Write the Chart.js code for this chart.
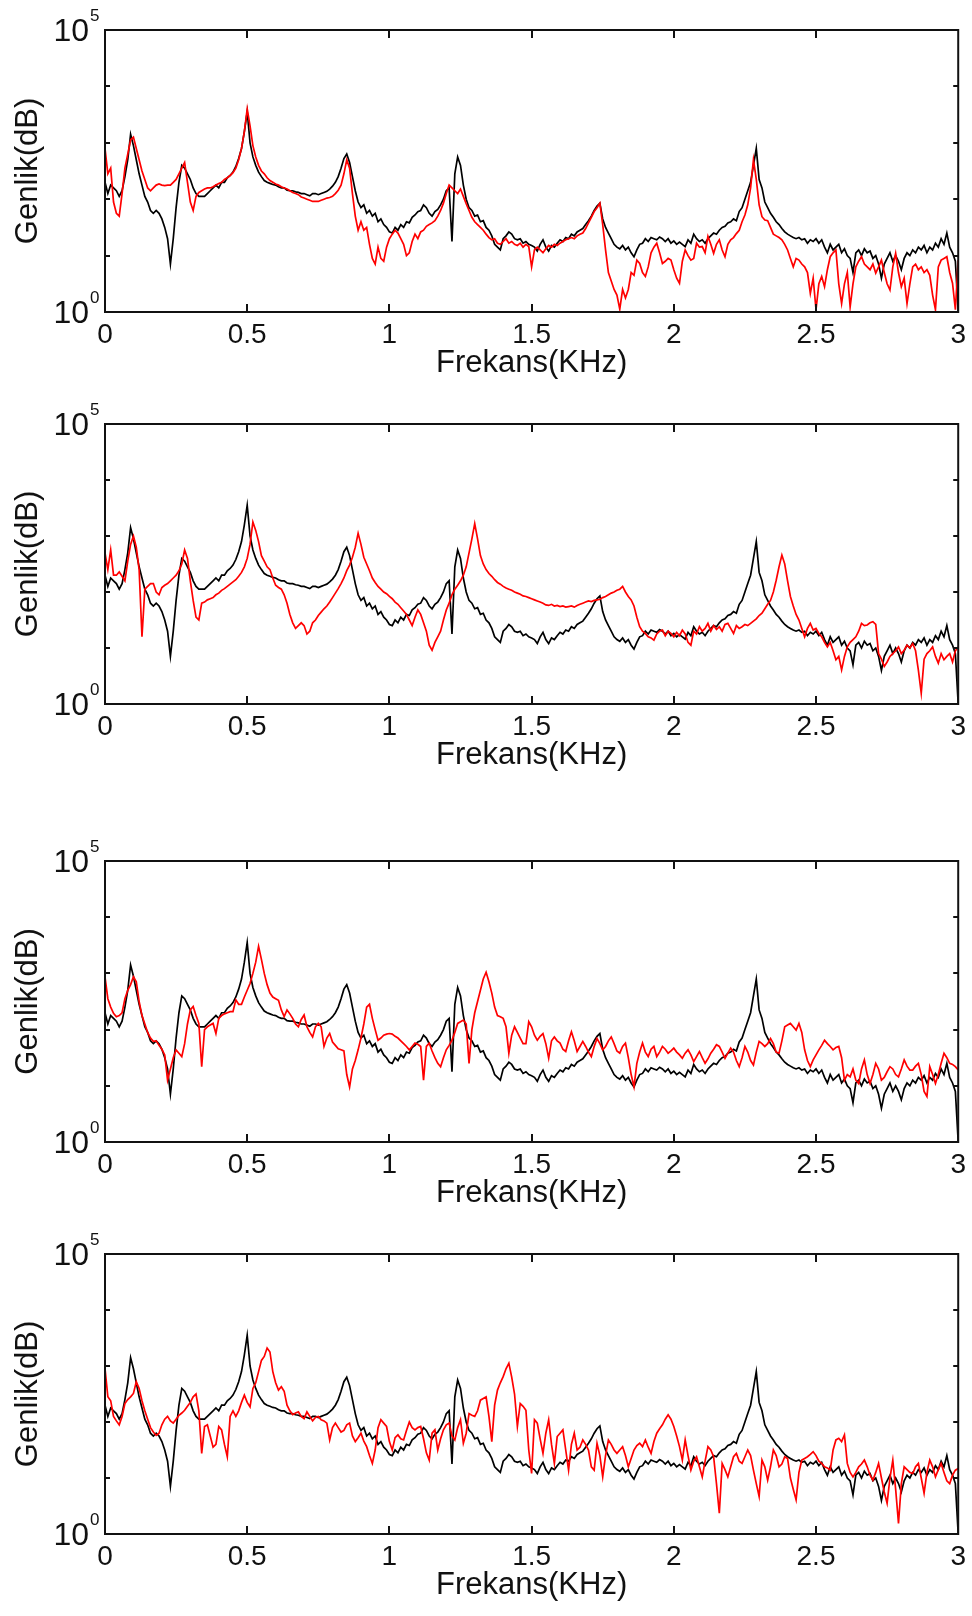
<!DOCTYPE html>
<html>
<head>
<meta charset="utf-8">
<script src="https://cdn.jsdelivr.net/npm/chart.js@4.4.0/dist/chart.umd.min.js"></script>
<style>
  html, body { margin: 0; padding: 0; background: #fff; overflow: hidden; }
  body { width: 972px; height: 1616px; position: relative; }
  canvas { position: absolute; left: 0; }
</style>
</head>
<body>
<canvas id="panel1" width="972" height="390" style="top:0px"></canvas>
<canvas id="panel2" width="972" height="390" style="top:394px"></canvas>
<canvas id="panel3" width="972" height="390" style="top:831px"></canvas>
<canvas id="panel4" width="972" height="390" style="top:1224px"></canvas>
<script>
// spectra, stored as log10(amplitude), one bin every 0.01 kHz (0 .. 3 kHz)
const freqStepKHz = 0.01;

// black reference curve (same in all four panels)
const blackLog = [
  2.3,2.1,2.25,2.2,2.15,2.05,2.15,2.4,2.7,3.15,
  2.95,2.7,2.45,2.25,2.05,1.95,1.8,1.75,1.8,1.75,
  1.65,1.5,1.3,0.85,1.3,1.85,2.3,2.6,2.55,2.45,
  2.35,2.2,2.1,2.05,2.05,2.05,2.1,2.15,2.2,2.25,
  2.2,2.3,2.3,2.38,2.42,2.48,2.58,2.72,2.9,3.2,
  3.55,3.0,2.75,2.6,2.48,2.4,2.33,2.3,2.28,2.26,
  2.25,2.22,2.2,2.2,2.16,2.15,2.15,2.13,2.12,2.1,
  2.1,2.08,2.06,2.1,2.1,2.08,2.1,2.12,2.14,2.18,
  2.23,2.3,2.4,2.55,2.72,2.8,2.65,2.4,2.15,1.95,
  1.85,1.9,1.75,1.8,1.7,1.75,1.6,1.65,1.55,1.5,
  1.42,1.4,1.5,1.45,1.55,1.5,1.6,1.58,1.68,1.72,
  1.78,1.8,1.9,1.85,1.75,1.7,1.78,1.82,1.9,2.0,
  2.15,2.2,1.25,2.45,2.75,2.6,2.25,2.0,1.85,1.8,
  1.7,1.72,1.6,1.62,1.5,1.45,1.35,1.2,1.15,1.1,
  1.3,1.35,1.42,1.38,1.3,1.28,1.3,1.22,1.25,1.2,
  1.18,1.15,1.08,1.2,1.28,1.15,1.08,1.18,1.15,1.22,
  1.28,1.25,1.32,1.3,1.38,1.35,1.42,1.45,1.48,1.55,
  1.62,1.7,1.8,1.88,1.93,1.65,1.5,1.4,1.3,1.2,
  1.15,1.12,1.18,1.1,1.15,1.05,0.98,1.1,1.2,1.22,
  1.3,1.25,1.32,1.3,1.28,1.33,1.3,1.25,1.3,1.22,
  1.26,1.2,1.24,1.2,1.16,1.28,1.22,1.38,1.3,1.25,
  1.28,1.22,1.3,1.35,1.4,1.38,1.45,1.5,1.52,1.58,
  1.6,1.65,1.62,1.78,1.85,2.0,2.15,2.3,2.6,2.9,
  2.35,2.2,1.95,1.85,1.75,1.68,1.6,1.55,1.48,1.42,
  1.38,1.35,1.32,1.3,1.32,1.28,1.3,1.22,1.28,1.25,
  1.3,1.22,1.28,1.15,1.05,1.2,1.1,1.15,1.2,1.05,
  1.12,1.0,0.95,0.7,1.05,1.1,1.0,1.12,1.05,1.08,
  0.95,1.0,0.85,0.6,0.85,0.95,1.05,0.9,1.0,0.9,
  0.75,0.95,1.05,1.0,1.1,1.05,1.15,1.1,1.18,1.05,
  1.15,1.1,1.22,1.15,1.3,1.2,1.4,1.15,1.05,0.9,
  0.0
];

// red curves, one per panel
const red1Log = [
  2.9,2.45,2.55,1.95,1.75,1.7,2.1,2.55,2.8,3.05,
  3.1,2.9,2.7,2.5,2.35,2.2,2.15,2.2,2.25,2.27,
  2.25,2.24,2.25,2.25,2.3,2.35,2.45,2.55,2.65,2.3,
  1.95,1.8,2.05,2.12,2.15,2.18,2.2,2.2,2.22,2.25,
  2.28,2.3,2.35,2.38,2.42,2.47,2.55,2.7,2.9,3.2,
  3.6,3.3,2.95,2.75,2.6,2.5,2.45,2.38,2.33,2.3,
  2.27,2.25,2.22,2.2,2.18,2.15,2.12,2.1,2.08,2.04,
  2.02,2.0,1.98,1.96,1.96,1.96,1.98,2.0,2.02,2.03,
  2.05,2.1,2.16,2.25,2.45,2.7,2.55,2.1,1.7,1.45,
  1.6,1.45,1.5,1.2,0.95,0.85,1.15,0.95,0.9,1.15,
  1.3,1.38,1.45,1.4,1.3,1.2,1.0,1.05,1.25,1.38,
  1.3,1.42,1.45,1.52,1.55,1.58,1.62,1.7,1.8,1.93,
  2.1,2.25,2.2,2.15,2.1,2.18,2.05,1.92,1.8,1.68,
  1.6,1.55,1.5,1.45,1.38,1.32,1.28,1.3,1.22,1.2,
  1.25,1.3,1.22,1.25,1.2,1.18,1.22,1.15,1.2,1.16,
  0.8,1.1,1.15,1.1,1.05,1.12,1.18,1.15,1.2,1.18,
  1.22,1.25,1.28,1.3,1.32,1.3,1.35,1.38,1.4,1.48,
  1.58,1.68,1.78,1.85,1.93,1.55,1.1,0.7,0.55,0.4,
  0.3,0.05,0.4,0.25,0.4,0.7,0.65,0.92,0.86,0.7,
  0.63,0.8,1.05,1.15,1.22,1.05,0.86,0.9,0.95,0.92,
  0.75,0.6,0.51,0.9,1.1,1.0,0.92,0.95,1.22,1.15,
  1.16,1.05,1.34,1.2,1.04,1.2,1.28,1.1,0.98,1.2,
  1.28,1.32,1.39,1.45,1.6,1.72,1.9,2.2,2.7,2.35,
  1.9,1.69,1.63,1.62,1.5,1.38,1.35,1.32,1.28,1.2,
  1.1,0.95,0.8,0.95,0.92,0.85,0.8,0.7,0.33,0.6,
  0.04,0.5,0.63,0.45,0.75,0.98,1.05,1.1,0.5,0.15,
  0.5,0.7,0.09,0.5,0.8,0.9,0.98,0.85,0.8,0.75,
  0.85,0.69,0.8,0.92,0.7,0.5,0.39,0.8,1.04,0.7,
  0.45,0.6,0.15,0.5,0.8,0.85,0.75,0.8,0.7,0.75,
  0.65,0.3,0.04,0.8,0.92,0.95,0.98,0.7,0.51,0.04,
  0.92
];

const red2Log = [
  2.7,2.4,2.75,2.3,2.3,2.36,2.28,2.2,2.55,2.85,
  3.0,2.8,2.4,1.2,2.05,2.1,2.15,2.15,2.0,1.95,
  2.08,2.12,2.15,2.2,2.25,2.3,2.38,2.5,2.75,2.6,
  2.2,1.85,1.55,1.5,1.8,1.82,1.86,1.88,1.9,1.95,
  1.98,2.03,2.06,2.1,2.14,2.18,2.22,2.28,2.35,2.45,
  2.6,2.85,3.25,3.1,2.9,2.65,2.55,2.45,2.4,2.25,
  2.12,2.08,2.05,1.95,1.8,1.6,1.45,1.35,1.4,1.45,
  1.4,1.25,1.3,1.45,1.5,1.58,1.64,1.7,1.75,1.82,
  1.9,1.98,2.06,2.15,2.25,2.38,2.48,2.62,2.8,3.05,
  2.85,2.62,2.5,2.38,2.25,2.17,2.1,2.05,2.0,1.97,
  1.92,1.88,1.82,1.78,1.72,1.66,1.6,1.5,1.4,1.55,
  1.68,1.6,1.45,1.3,1.05,0.96,1.1,1.2,1.3,1.5,
  1.68,1.8,1.95,2.05,2.12,2.2,2.3,2.45,2.7,2.95,
  3.22,2.95,2.65,2.5,2.4,2.33,2.28,2.22,2.17,2.14,
  2.1,2.07,2.05,2.03,2.0,1.98,1.96,1.93,1.92,1.9,
  1.88,1.86,1.84,1.82,1.8,1.77,1.76,1.78,1.75,1.76,
  1.74,1.75,1.73,1.74,1.75,1.73,1.76,1.78,1.8,1.82,
  1.84,1.83,1.85,1.86,1.87,1.9,1.92,1.95,1.98,2.0,
  2.03,2.05,2.1,2.0,1.92,1.86,1.75,1.55,1.38,1.3,
  1.26,1.2,1.18,1.14,1.25,1.3,1.32,1.22,1.3,1.26,
  1.2,1.28,1.22,1.32,1.25,1.1,1.05,1.3,1.25,1.38,
  1.3,1.35,1.44,1.3,1.4,1.33,1.38,1.3,1.42,1.44,
  1.35,1.26,1.4,1.35,1.38,1.42,1.4,1.44,1.48,1.52,
  1.58,1.62,1.7,1.78,1.85,2.0,2.21,2.45,2.66,2.5,
  2.2,1.92,1.75,1.6,1.5,1.35,1.2,1.35,1.44,1.32,
  1.35,1.26,1.2,1.1,1.02,1.1,0.95,0.79,0.85,0.61,
  0.85,1.02,1.1,1.15,1.2,1.3,1.44,1.4,1.41,1.45,
  1.47,1.42,0.9,0.8,0.67,0.75,0.85,0.9,0.95,1.02,
  0.9,0.96,1.05,1.0,1.08,0.95,0.6,0.19,0.8,0.9,
  0.95,1.02,0.85,0.73,0.9,0.79,0.85,0.9,0.75,0.95,
  1.02
];

const red3Log = [
  2.94,2.55,2.4,2.29,2.23,2.25,2.3,2.55,2.7,2.8,
  2.94,2.85,2.5,2.25,2.1,1.95,1.85,1.79,1.8,1.72,
  1.65,1.55,1.1,1.3,1.5,1.64,1.58,1.52,1.75,2.1,
  2.35,2.41,2.25,2.11,1.34,2.0,2.05,2.08,2.11,1.93,
  2.2,2.25,2.28,2.3,2.32,2.32,2.53,2.45,2.45,2.58,
  2.7,2.82,3.0,3.2,3.48,3.25,3.0,2.8,2.65,2.58,
  2.55,2.52,2.35,2.23,2.35,2.28,2.2,2.1,2.05,2.18,
  2.26,2.05,1.95,1.87,2.05,2.11,2.05,1.7,1.85,1.93,
  1.78,1.72,1.66,1.64,1.62,1.2,0.98,1.3,1.45,1.64,
  1.85,2.1,2.4,2.45,2.2,2.0,1.81,1.85,1.9,1.92,
  1.93,1.92,1.88,1.85,1.8,1.75,1.7,1.64,1.7,1.76,
  1.74,1.7,1.1,1.7,1.76,1.62,1.5,1.4,1.34,1.5,
  1.64,1.72,1.81,1.95,2.11,2.14,2.17,2.1,1.4,2.0,
  2.3,2.5,2.7,2.9,3.02,2.85,2.65,2.4,2.25,2.23,
  2.2,2.05,1.58,1.9,2.05,1.95,1.85,1.75,1.75,2.14,
  2.05,1.9,1.81,1.88,1.93,1.75,1.49,1.8,1.87,1.8,
  1.76,1.65,1.61,1.8,1.96,1.8,1.61,1.7,1.79,1.7,
  1.6,1.52,1.7,1.84,1.75,1.64,1.7,1.8,1.87,1.75,
  1.62,1.58,1.7,1.76,1.5,1.2,0.98,1.4,1.6,1.76,
  1.6,1.52,1.65,1.7,1.52,1.6,1.7,1.65,1.58,1.62,
  1.67,1.6,1.55,1.49,1.58,1.64,1.55,1.43,1.52,1.61,
  1.5,1.4,1.48,1.58,1.65,1.73,1.7,1.6,1.49,1.58,
  1.67,1.6,1.45,1.34,1.5,1.7,1.6,1.45,1.37,1.6,
  1.79,1.75,1.7,1.75,1.84,1.75,1.6,1.58,1.8,2.05,
  2.08,2.11,2.05,1.99,2.11,1.95,1.64,1.45,1.34,1.46,
  1.55,1.64,1.72,1.81,1.75,1.7,1.64,1.68,1.7,1.5,
  1.1,1.2,1.16,1.3,1.1,1.04,1.3,1.46,1.2,1.04,
  1.2,1.4,1.3,1.1,1.15,1.25,1.34,1.3,1.2,1.16,
  1.3,1.46,1.35,1.28,1.28,1.35,1.4,1.2,0.9,0.81,
  1.34,1.2,1.04,1.2,1.4,1.58,1.5,1.4,1.38,1.34,
  1.28
];

const red4Log = [
  2.96,2.45,2.38,2.1,2.02,1.95,2.1,2.33,2.4,2.45,
  2.51,2.72,2.6,2.38,2.2,2.05,1.9,1.82,1.76,1.8,
  1.95,2.05,2.1,2.02,1.98,2.05,2.12,2.16,2.21,2.28,
  2.35,2.45,2.5,2.2,1.44,1.92,1.95,1.75,1.55,1.6,
  1.92,1.86,1.6,1.38,2.1,2.2,2.1,2.2,2.35,2.48,
  2.35,2.27,2.6,2.7,2.9,3.1,3.17,3.32,3.25,2.9,
  2.7,2.57,2.63,2.55,2.3,2.2,2.13,2.16,2.18,2.1,
  2.06,2.18,2.1,2.02,2.08,2.1,2.04,2.02,1.98,1.68,
  1.9,1.98,1.9,1.82,1.85,1.95,1.98,1.75,1.65,1.72,
  1.8,1.66,1.56,1.4,1.26,1.5,1.9,2.04,1.98,1.92,
  1.65,1.5,1.72,1.77,1.7,1.68,1.85,2.0,1.9,1.86,
  1.9,1.92,1.7,1.45,1.32,1.8,1.86,1.5,1.7,1.86,
  1.95,1.98,1.75,1.68,1.9,2.04,1.62,1.8,2.15,2.12,
  2.1,2.2,2.39,2.42,2.45,2.1,1.65,2.3,2.57,2.7,
  2.81,2.95,3.05,2.8,2.5,1.92,2.33,2.28,2.21,1.5,
  1.08,2.04,1.98,1.7,1.44,1.8,2.04,1.6,1.26,1.74,
  1.8,1.86,1.5,1.14,1.6,1.8,1.5,1.55,1.68,1.6,
  1.5,1.2,1.14,1.62,1.4,1.02,1.4,1.68,1.6,1.5,
  1.44,1.5,1.56,1.4,1.2,1.35,1.5,1.58,1.62,1.56,
  1.68,1.55,1.44,1.65,1.8,1.88,1.95,2.05,2.13,2.05,
  1.92,1.75,1.56,1.32,1.68,1.4,1.14,1.3,1.38,1.2,
  1.02,1.3,1.56,1.5,1.38,0.9,0.37,1.26,1.15,1.02,
  1.2,1.38,1.44,1.3,1.26,1.38,1.5,1.4,1.14,0.9,
  0.67,1.32,1.2,0.96,1.2,1.5,1.4,1.2,1.25,1.38,
  1.35,1.0,0.8,0.61,1.1,1.32,1.35,1.38,1.42,1.47,
  1.4,1.3,1.26,1.2,1.18,1.14,1.5,1.68,1.71,1.65,
  1.77,1.26,1.1,1.02,1.1,1.2,1.25,1.32,1.2,1.05,
  0.96,1.1,1.26,1.0,0.75,0.55,1.0,1.32,0.8,0.19,
  0.9,1.2,1.15,1.1,1.08,1.2,1.26,1.0,0.73,1.1,
  1.32,1.2,1.02,1.15,1.26,1.1,0.95,0.9,1.05,1.14,
  1.17
];

const xTicks = [0, 0.5, 1, 1.5, 2, 2.5, 3];
const yDecades = [1, 10, 100, 1000, 10000, 100000];
const yTickLabels = [{ value: 1, base: '10', exp: '0' }, { value: 100000, base: '10', exp: '5' }];

const fontFamily = '"Liberation Sans", Arial, Helvetica, sans-serif';
const canvasH = 390;

// plot boxes in page pixels
const panels = [
  { id: 'panel1', red: red1Log, canvasTop: 0, top: 30, bottom: 312 },
  { id: 'panel2', red: red2Log, canvasTop: 394, top: 424, bottom: 704 },
  { id: 'panel3', red: red3Log, canvasTop: 831, top: 861, bottom: 1142 },
  { id: 'panel4', red: red4Log, canvasTop: 1224, top: 1254, bottom: 1534 }
];

function toPoints(logs) {
  return logs.map((e, i) => ({ x: i * freqStepKHz, y: Math.pow(10, e) }));
}

// matlab style box with inward ticks and 10^n labels
const frameTicks = {
  id: 'frameTicks',
  afterDatasetsDraw(chart) {
    const ctx = chart.ctx;
    const a = chart.chartArea;
    const xs = chart.scales.x;
    const ys = chart.scales.y;
    ctx.save();
    ctx.strokeStyle = '#111';
    ctx.lineWidth = 2;
    ctx.strokeRect(a.left, a.top, a.right - a.left, a.bottom - a.top);
    ctx.beginPath();
    xTicks.slice(1, -1).forEach(v => {
      const px = Math.round(xs.getPixelForValue(v));
      ctx.moveTo(px, a.bottom); ctx.lineTo(px, a.bottom - 8);
      ctx.moveTo(px, a.top); ctx.lineTo(px, a.top + 8);
    });
    yDecades.slice(1, -1).forEach(v => {
      const py = Math.round(ys.getPixelForValue(v));
      ctx.moveTo(a.left, py); ctx.lineTo(a.left + 5, py);
      ctx.moveTo(a.right, py); ctx.lineTo(a.right - 5, py);
    });
    ctx.stroke();

    ctx.fillStyle = '#111';
    ctx.textBaseline = 'alphabetic';
    yTickLabels.forEach(t => {
      const py = ys.getPixelForValue(t.value);
      ctx.font = '32px ' + fontFamily;
      ctx.textAlign = 'right';
      ctx.fillText(t.base, 89, py + 11);
      ctx.font = '17px ' + fontFamily;
      ctx.textAlign = 'left';
      ctx.fillText(t.exp, 90, py - 9);
    });
    ctx.restore();
  }
};

function drawPanel(p) {
  const localBottom = p.bottom - p.canvasTop;
  const titleLh = 31 * 1.2;
  new Chart(document.getElementById(p.id), {
    type: 'line',
    data: {
      datasets: [
        { data: toPoints(p.red), borderColor: '#ff0000', borderWidth: 1.7, pointRadius: 0, tension: 0, fill: false },
        { data: toPoints(blackLog), borderColor: '#000000', borderWidth: 1.7, pointRadius: 0, tension: 0, fill: false }
      ]
    },
    options: {
      responsive: false,
      animation: false,
      devicePixelRatio: 1,
      events: [],
      layout: { padding: { top: p.top - p.canvasTop, right: 13, left: 0, bottom: 0 } },
      plugins: { legend: { display: false }, tooltip: { enabled: false } },
      scales: {
        x: {
          type: 'linear', min: 0, max: 3,
          grid: { display: false, drawTicks: false },
          border: { display: false },
          afterBuildTicks: s => { s.ticks = xTicks.map(v => ({ value: v })); },
          ticks: {
            color: '#111', padding: 6, maxRotation: 0, autoSkip: false,
            font: { size: 28, family: fontFamily },
            callback: v => String(v)
          },
          title: {
            display: true, text: 'Frekans(KHz)', color: '#111',
            font: { size: 31, family: fontFamily },
            padding: { top: 0, bottom: canvasH - localBottom - 51 - titleLh / 2 }
          },
          afterFit: s => { s.height = canvasH - localBottom; }
        },
        y: {
          type: 'logarithmic', min: 1, max: 100000,
          grid: { display: false, drawTicks: false },
          border: { display: false },
          afterBuildTicks: s => { s.ticks = yDecades.map(v => ({ value: v })); },
          ticks: { display: false },
          title: {
            display: true, text: 'Genlik(dB)', color: '#111',
            font: { size: 31, family: fontFamily },
            padding: { top: 28 - titleLh / 2, bottom: 0 }
          },
          afterFit: s => { s.width = 105; }
        }
      }
    },
    plugins: [frameTicks]
  });
}

panels.forEach(drawPanel);
</script>
</body>
</html>
